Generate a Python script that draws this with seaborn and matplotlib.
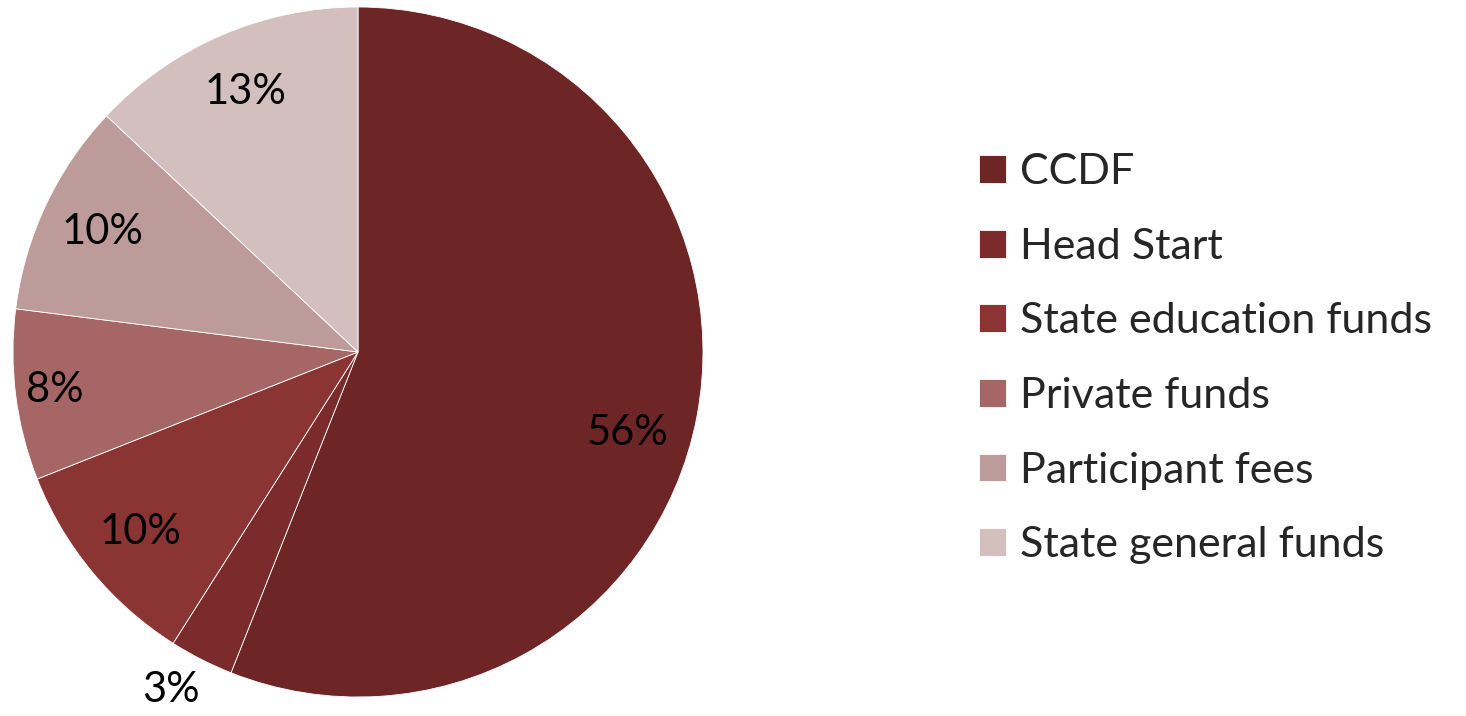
import matplotlib
matplotlib.use("Agg")
import numpy as np
import matplotlib.pyplot as plt
import seaborn as sns

sns.set_theme(style="white")
plt.rcParams["font.family"] = ["Lato", "DejaVu Sans"]

# funding sources, share of total (%)
sources = ["CCDF", "Head Start", "State education funds", "Private funds",
           "Participant fees", "State general funds"]
shares = [56, 3, 10, 8, 10, 13]
colors = ["#6D2526", "#7B2B2C", "#8B3434", "#A66666", "#BE9B9B", "#D4BFBF"]

fig = plt.figure(figsize=(14.66, 7.16), dpi=100)
ax = fig.add_axes([13 / 1466, 19 / 716, 690 / 1466, 690 / 716])

wedges, texts, autotexts = ax.pie(
    shares, colors=colors, startangle=90, counterclock=False,
    autopct="%d%%", pctdistance=0.82,
    wedgeprops=dict(edgecolor="white", linewidth=0.6),
    textprops=dict(fontsize=30, color="black"),
)
ax.set_xlim(-1, 1)
ax.set_ylim(-1, 1)
ax.set_aspect("equal")

# nudge a few labels like the original (index, radius, angle shift in deg)
for i, r, dth in [(0, 0.815, -6), (1, 1.12, -2), (3, 0.885, 0)]:
    x, y = autotexts[i].get_position()
    th = np.arctan2(y, x) + np.deg2rad(dth)
    autotexts[i].set_position((r * np.cos(th), r * np.sin(th)))

fig.legend(wedges, sources, loc="upper left", bbox_to_anchor=(0.668, 0.786),
           frameon=False, fontsize=31, handlelength=0.62, handleheight=0.62,
           handletextpad=0.32, labelspacing=0.85, borderpad=0, borderaxespad=0)

fig.savefig("out.png", dpi=100)
